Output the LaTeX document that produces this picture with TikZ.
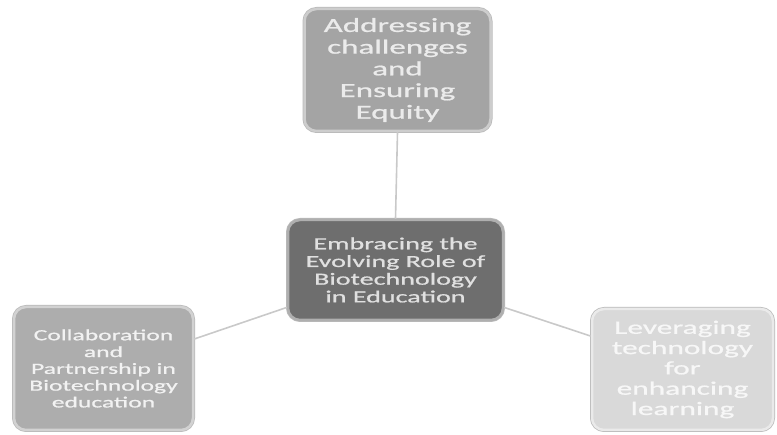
\documentclass[tikz,border=0pt]{standalone}
\usepackage{fontspec}
\newfontfamily\boxfont[FakeStretch=1.65, FakeBold=0.9]{Carlito}
\definecolor{topgray}{HTML}{A4A4A4}
\definecolor{midgray}{HTML}{6E6E6E}
\definecolor{leftgray}{HTML}{ADADAD}
\definecolor{rightgray}{HTML}{D9D9D9}
\definecolor{linkgray}{HTML}{C9C9C9}
\begin{document}
\begin{tikzpicture}[x=1pt, y=-1pt,
    smartbox/.style={rectangle, rounded corners=12pt, align=center, inner sep=0pt,
      fill=#1, draw=white!45!#1, line width=2.5pt,
      preaction={draw=gray!55, line width=4pt}},
    link/.style={draw=linkgray, line width=1.6pt}]
  \useasboundingbox (0,0) rectangle (777,435);
  %
  \node[smartbox=topgray, minimum width=186pt, minimum height=122pt,
        text=white!92!black, font=\boxfont\fontsize{20}{21.7}\selectfont]
    (equity) at (397.5,70) {Addressing\\challenges\\and\\Ensuring\\Equity};
  %
  \node[smartbox=midgray, minimum width=215pt, minimum height=100pt,
        text=white!88!black, font=\boxfont\fontsize{17}{17.7}\selectfont]
    (role) at (395.5,270) {Embracing the\\Evolving Role of\\Biotechnology\\in Education};
  %
  \node[smartbox=leftgray, minimum width=179pt, minimum height=123pt,
        text=white!95!black, font=\boxfont\fontsize{15.5}{16.8}\selectfont]
    (partner) at (103.5,368.5) {Collaboration\\and\\Partnership in\\Biotechnology\\education};
  %
  \node[smartbox=rightgray, minimum width=181pt, minimum height=121pt,
        text=white!97!black, font=\boxfont\fontsize{19}{20.3}\selectfont]
    (learning) at (682.5,369.5) {Leveraging\\technology\\for\\enhancing\\learning};
  %
  \draw[link] (role.north) -- (equity.south);     % up
  \draw[link] (role.199) -- (partner.18);         % left
  \draw[link] (role.-19) -- (learning.160);       % right
  %
\end{tikzpicture}
\end{document}
